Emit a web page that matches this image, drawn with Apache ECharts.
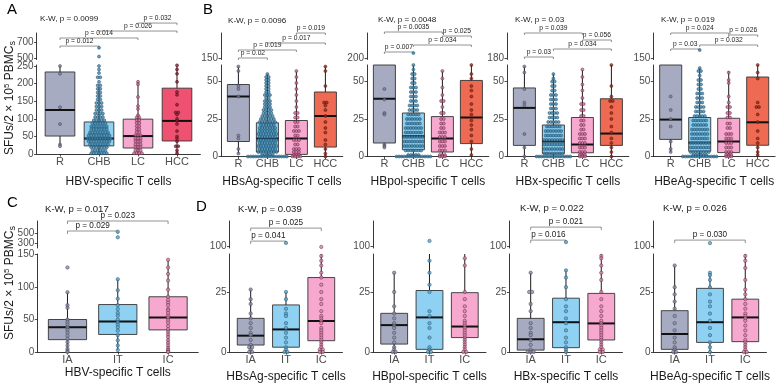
<!DOCTYPE html>
<html>
<head>
<meta charset="utf-8">
<script src="https://cdn.jsdelivr.net/npm/echarts@6/dist/echarts.min.js"></script>
<style>html,body{margin:0;background:#fff}#chart{width:784px;height:386px}</style>
</head>
<body>
<div id="chart"></div>
<script>
// broken-axis box + dot plots (top: disease stages, bottom: immune phases)
const FONT = '"Liberation Sans", Arial, sans-serif';

const TOP_CATS = ['R', 'CHB', 'LC', 'HCC'];
const BOT_CATS = ['IA', 'IT', 'IC'];

// boxes: [lower whisker, Q1, median, Q3, upper whisker]; dots: [value, how many side by side]
const A_BOXES = [[22, 51, 125, 233, 250], [0, 23, 44, 91, 190], [0, 17, 51, 99, 205], [0, 37, 94, 187, 250]];
const A_DOTS = [
  [[250,1],[228,1],[133,1],[85,1],[27,1],[22,1]],
  [[628,1],[518,1],[250,1],[240,1],[230,1],[218,2],[205,1],[195,2],[185,2],[175,2],[165,2],[155,2],[145,3],[135,3],[125,3],[115,4],[105,4],[96,5],[87,6],[78,7],[70,7],[61,8],[53,9],[44,10],[36,9],[27,8],[19,7],[10,6],[2,7]],
  [[205,1],[198,1],[162,1],[136,1],[128,1],[110,1],[104,2],[96,2],[88,2],[79,2],[70,2],[62,2],[53,3],[44,3],[36,3],[27,3],[19,3],[10,3],[2,4]],
  [[252,1],[240,1],[228,1],[205,1],[176,1],[168,1],[140,1],[118,2],[112,1],[100,1],[94,1],[85,1],[65,1],[50,1],[44,1],[36,1],[22,2],[10,1],[2,1]]
];
const A_BRACKETS = [['R','CHB',649,'p = 0.012'], ['R','LC',750,'p = 0.014'], ['CHB','HCC',837,'p = 0.026'], ['LC','HCC',937,'p = 0.032']];

const B1_BOXES = [[2, 10, 40, 48, 60], [0, 3, 12, 22.5, 55], [0, 1.4, 12, 24, 57], [0, 6.3, 27, 43, 60]];
const B1_DOTS = [
  [[60,1],[57,1],[47,1],[45,1],[40,1],[14,1],[12,1],[5,1],[2,1]],
  [[55,1],[53,2],[51,2],[49,2],[47,2],[45,2],[43,2],[41,3],[39,2],[37,3],[35,3],[33,3],[31,4],[29,4],[27,5],[25,6],[23,7],[21,6],[19,7],[17,7],[15,8],[13,7],[11,8],[9,7],[7,8],[5,7],[3,8],[1,5],[0,16]],
  [[57,1],[53,1],[49,1],[45,1],[41,1],[37,1],[33,1],[29,2],[26,2],[23,2],[20,2],[17,3],[14,2],[11,3],[8,2],[5,3],[3,3],[1,3],[0,4]],
  [[60,1],[57,1],[47,1],[36,2],[34,1],[31,1],[27,1],[23,1],[19,1],[16,1],[11,1],[8,1],[5,1],[2,1],[0,1]]
];
const B1_BRACKETS = [['R','CHB',150,'p = 0.02'], ['R','LC',182,'p = 0.019'], ['CHB','HCC',210,'p = 0.017'], ['LC','HCC',250,'p = 0.019']];

const B2_BOXES = [[6, 9, 38.5, 75, 90], [0, 4.5, 13.5, 29, 61], [0, 3, 12, 26.6, 57], [0, 8.6, 26, 50.7, 61]];
const B2_DOTS = [
  [[45,1],[38,1],[29,1],[28,1],[8,1],[7,1],[6,1]],
  [[220,1],[61,1],[58,1],[55,2],[52,2],[49,2],[46,3],[43,3],[40,3],[37,3],[34,4],[31,4],[28,5],[25,6],[22,6],[19,7],[16,7],[13,8],[10,8],[7,8],[4,7],[1,5],[0,14]],
  [[57,1],[52,1],[46,1],[41,1],[37,2],[33,1],[29,2],[25,2],[22,2],[19,2],[16,3],[13,3],[10,3],[7,3],[4,3],[1,3],[0,3]],
  [[61,1],[55,1],[52,1],[47,1],[44,1],[40,1],[35,1],[31,1],[28,1],[24,1],[21,1],[18,1],[14,1],[10,1],[5,1],[1,1]]
];
const B2_BRACKETS = [['R','CHB',224,'p = 0.007'], ['CHB','HCC',252,'p = 0.034'], ['LC','HCC',288,'p = 0.025'], ['R','LC',304,'p = 0.0035']];

const B3_BOXES = [[0, 7.4, 32.4, 45.7, 60], [0, 2, 10, 21, 55], [0, 2.5, 8, 26, 57.6], [0, 7.4, 15.3, 38.5, 61]];
const B3_DOTS = [
  [[60,1],[56,1],[45,1],[36,1],[34,1],[15,1],[6,1],[0,1]],
  [[55,1],[52,1],[50,2],[47,2],[44,2],[41,3],[38,3],[35,3],[32,3],[29,4],[26,4],[23,5],[20,6],[17,7],[14,7],[11,8],[8,8],[5,8],[2,8],[0,14]],
  [[58,1],[53,1],[48,1],[44,1],[39,1],[35,2],[31,2],[27,2],[24,2],[21,2],[18,2],[15,3],[12,3],[9,3],[6,3],[3,3],[1,3],[0,3]],
  [[61,1],[47,1],[40,1],[37,2],[33,1],[29,1],[25,1],[20,1],[16,1],[12,1],[9,1],[6,1],[3,1],[0,1]]
];
const B3_BRACKETS = [['R','CHB',184,'p = 0.03'], ['CHB','HCC',216,'p = 0.034'], ['LC','HCC',252,'p = 0.056'], ['R','LC',280,'p = 0.039']];

const B4_BOXES = [[3, 11.4, 24.6, 75, 90], [0, 3.5, 9.2, 26, 59], [0, 2.6, 10, 25.5, 57], [0, 7.5, 22.8, 53, 61]];
const B4_DOTS = [
  [[40,1],[31,1],[25,1],[20,1],[10,1],[5,1],[3,1]],
  [[182,1],[59,1],[57,2],[54,1],[51,2],[48,2],[45,2],[42,3],[39,3],[36,3],[33,4],[30,4],[27,5],[24,6],[21,6],[18,7],[15,7],[12,7],[9,8],[6,8],[3,8],[1,6],[0,14]],
  [[56,1],[51,1],[49,1],[40,1],[36,1],[33,2],[29,2],[26,2],[22,2],[19,2],[15,3],[12,3],[9,3],[6,3],[3,3],[1,3],[0,3]],
  [[61,1],[56,1],[52,1],[36,1],[33,2],[28,1],[23,1],[17,1],[12,1],[9,1],[6,1],[3,1],[1,1]]
];
const B4_BRACKETS = [['R','CHB',186,'p = 0.03'], ['CHB','HCC',202,'p = 0.032'], ['LC','HCC',242,'p = 0.026'], ['R','LC',250,'p = 0.024']];

const C_BOXES = [[0, 19, 38, 50, 92], [3, 27, 47, 73, 112], [0, 34, 53, 85, 142]];
const C_DOTS = [
  [[130,1],[92,1],[72,1],[68,1],[50,1],[46,1],[42,1],[38,1],[34,1],[30,1],[25,1],[20,1],[15,1],[10,1],[5,1],[2,1],[0,1]],
  [[526,1],[414,1],[112,1],[95,1],[82,1],[72,1],[66,1],[60,1],[56,1],[50,1],[46,1],[42,1],[38,1],[33,1],[26,1],[18,1],[10,1],[3,1]],
  [[142,1],[130,1],[120,1],[110,1],[96,1],[85,1],[80,1],[76,1],[72,1],[66,1],[64,1],[60,1],[56,1],[53,1],[49,1],[45,1],[40,1],[35,1],[31,1],[27,1],[23,1],[18,1],[14,1],[10,1],[6,1],[3,1],[1,1],[0,1]]
];
const C_BRACKETS = [['IA','IT',540,'p = 0.029'], ['IA','IC',740,'p = 0.023']];

const D1_BOXES = [[0, 2.9, 6.8, 14, 26], [0, 2, 9.4, 19.6, 25], [0, 4.7, 12.9, 31, 41]];
const D1_DOTS = [
  [[26,1],[22,1],[20,1],[16,1],[14,1],[12,1],[10,1],[8,1],[7,1],[5,1],[3,1],[2,2],[1,1],[0,2]],
  [[118,1],[25,1],[22,1],[18,1],[16,1],[15,1],[12,1],[10,1],[8,1],[6,1],[4,1],[2,1],[1,1],[0,2]],
  [[98,1],[40,1],[38,1],[36,1],[33,1],[31,1],[28,1],[25,1],[22,1],[20,1],[17,1],[15,1],[14,1],[13,1],[12,1],[10,1],[9,1],[8,1],[7,1],[6,1],[5,1],[4,1],[3,1],[2,1],[1,2],[0,2]]
];
const D1_BRACKETS = [['IA','IT',127,'p = 0.041'], ['IA','IC',192,'p = 0.025']];

const D2_BOXES = [[0, 3.3, 11.2, 16.1, 33], [0, 1.1, 14.4, 25.6, 41], [0, 6, 10.6, 24.7, 41]];
const D2_DOTS = [
  [[33,1],[25,1],[19,1],[16,1],[14,1],[12,1],[11,1],[10,1],[8,1],[6,1],[4,1],[2,1],[1,1],[0,2]],
  [[128,1],[38,1],[33,1],[28,1],[25,1],[17,1],[15,1],[12,1],[10,1],[6,1],[2,1],[1,1],[0,2]],
  [[39,1],[36,1],[25,1],[22,1],[19,1],[17,1],[15,1],[13,1],[12,1],[11,1],[10,1],[9,1],[8,1],[7,1],[6,1],[5,1],[4,1],[3,1],[2,1],[1,1],[0,2]]
];
const D2_BRACKETS = [];

const D3_BOXES = [[0, 0.8, 5.3, 14, 33], [0, 1.8, 12.4, 22.4, 34], [0, 5, 11.9, 24.4, 41]];
const D3_DOTS = [
  [[33,1],[25,2],[20,1],[17,1],[12,1],[10,1],[8,1],[7,1],[5,1],[3,1],[1,1],[0,3]],
  [[122,1],[34,1],[31,1],[27,1],[22,1],[19,1],[17,1],[14,1],[12,1],[9,1],[6,1],[4,1],[2,1],[1,1],[0,1]],
  [[40,1],[39,1],[36,1],[33,1],[30,1],[25,1],[22,1],[19,1],[17,1],[15,1],[13,1],[12,1],[11,1],[10,1],[9,1],[8,1],[7,1],[6,1],[5,1],[4,1],[3,1],[2,1],[1,2],[0,2]]
];
const D3_BRACKETS = [['IA','IT',132,'p = 0.016'], ['IA','IC',197,'p = 0.021']];

const D4_BOXES = [[0, 1.1, 7.5, 17.2, 36], [0, 4, 12.4, 26.5, 33], [0, 4.3, 14.4, 22, 41]];
const D4_DOTS = [
  [[36,1],[27,1],[24,1],[21,1],[18,1],[15,1],[12,1],[9,1],[6,1],[4,1],[2,1],[1,1],[0,2]],
  [[117,1],[33,1],[32,1],[30,1],[27,1],[24,1],[21,1],[19,1],[16,1],[13,1],[10,1],[7,1],[4,1],[2,1],[0,1]],
  [[40,1],[38,1],[35,1],[30,1],[26,1],[24,1],[22,1],[20,1],[18,1],[16,1],[15,1],[14,1],[13,1],[11,1],[9,1],[7,1],[5,1],[4,1],[3,1],[2,1],[1,1],[0,2]]
];
const D4_BRACKETS = [['IA','IC',132,'p = 0.030']];

// tick values for the two segments of each broken axis
const A_LOW_TICKS = [0, 50, 100, 150, 200, 250];
const A_UP_TICKS = [500, 700];
const B_LOW_TICKS = [0, 25, 50];
const C_LOW_TICKS = [0, 50, 100, 150];
const C_UP_TICKS = [300, 500];
const D_LOW_TICKS = [0, 25];
const D_UP_TICKS = [100];

const FILL_A = ['#a7abc1', '#8fd1f2', '#f6a8cf', '#ef5170'];
const FILL_B = ['#a7abc1', '#8fd1f2', '#f6a8cf', '#ee6a52'];
const FILL_CD = ['#a7abc1', '#8fd1f2', '#f6a8cf'];
const DOT_A = [['#7b7f97', '#3b3e4f'], ['#4089b0', '#1c4660'], ['#c96f98', '#5e1f3c'], ['#8c1d34', '#4a0c18']];
const DOT_B = [['#7b7f97', '#3b3e4f'], ['#4089b0', '#1c4660'], ['#c96f98', '#5e1f3c'], ['#962c1e', '#4f1108']];
const DOT_CD = [['#8b8fa8', '#3b3e4f'], ['#5aa5cc', '#234a61'], ['#d484a8', '#5e2442']];

const TOP = { lowTop: 65, upTop: 33, upBottom: 59.5, dot: 3, dotGap: 2.6, brFont: 6.7, brTick: 2, titleGap: 19 };
const BOT = { lowTop: 254, lowBottom: 352, upTop: 221, upBottom: 248, dot: 3.4, dotGap: 3, brFont: 8.2, brTick: 3, titleGap: 16 };

const PANELS = [
  { ...TOP, cats: TOP_CATS, boxes: A_BOXES, dots: A_DOTS, brackets: A_BRACKETS, fills: FILL_A, dotClr: DOT_A,
    left: 36.6, unit: 39, lowBottom: 154, lowMax: 252.8, upMin: 481, upMax: 812.5,
    lowTicks: A_LOW_TICKS, upTicks: A_UP_TICKS, title: 'HBV-specific T cells', titleGap: 22,
    kw: 'K-W, p = 0.0099', kwAt: [40, 18.5] },
  { ...TOP, cats: TOP_CATS, boxes: B1_BOXES, dots: B1_DOTS, brackets: B1_BRACKETS, fills: FILL_B, dotClr: DOT_B,
    left: 221, unit: 29, lowBottom: 156.5, lowMax: 61, upMin: 144, upMax: 250,
    lowTicks: B_LOW_TICKS, upTicks: [150], title: 'HBsAg-specific T cells',
    kw: 'K-W, p = 0.0096', kwAt: [228, 21] },
  { ...TOP, cats: TOP_CATS, boxes: B2_BOXES, dots: B2_DOTS, brackets: B2_BRACKETS, fills: FILL_B, dotClr: DOT_B,
    left: 367, unit: 29, lowBottom: 156.5, lowMax: 61, upMin: 194, upMax: 300,
    lowTicks: B_LOW_TICKS, upTicks: [200], title: 'HBpol-specific T cells',
    kw: 'K-W, p = 0.0048', kwAt: [378, 20] },
  { ...TOP, cats: TOP_CATS, boxes: B3_BOXES, dots: B3_DOTS, brackets: B3_BRACKETS, fills: FILL_B, dotClr: DOT_B,
    left: 507, unit: 29, lowBottom: 156.5, lowMax: 61, upMin: 174, upMax: 280,
    lowTicks: B_LOW_TICKS, upTicks: [180], title: 'HBx-specific T cells',
    kw: 'K-W, p = 0.03', kwAt: [515, 20] },
  { ...TOP, cats: TOP_CATS, boxes: B4_BOXES, dots: B4_DOTS, brackets: B4_BRACKETS, fills: FILL_B, dotClr: DOT_B,
    left: 653.3, unit: 29, lowBottom: 156.5, lowMax: 61, upMin: 144, upMax: 250,
    lowTicks: B_LOW_TICKS, upTicks: [150], title: 'HBeAg-specific T cells',
    kw: 'K-W, p = 0.019', kwAt: [661, 20] },
  { ...BOT, cats: BOT_CATS, boxes: C_BOXES, dots: C_DOTS, brackets: C_BRACKETS, fills: FILL_CD, dotClr: DOT_CD,
    left: 37.3, unit: 50.3, lowMax: 150.8, upMin: 200, upMax: 740,
    lowTicks: C_LOW_TICKS, upTicks: C_UP_TICKS, title: 'HBV-specific T cells', titleGap: 15,
    kw: 'K-W, p = 0.017', kwAt: [45, 209] },
  { ...BOT, cats: BOT_CATS, boxes: D1_BOXES, dots: D1_DOTS, brackets: D1_BRACKETS, fills: FILL_CD, dotClr: DOT_CD,
    left: 229.5, unit: 35.3, lowMax: 40.8, upMin: 92.5, upMax: 227.5,
    lowTicks: D_LOW_TICKS, upTicks: D_UP_TICKS, title: 'HBsAg-specific T cells', titleGap: 19,
    kw: 'K-W, p = 0.039', kwAt: [238, 209] },
  { ...BOT, cats: BOT_CATS, boxes: D2_BOXES, dots: D2_DOTS, brackets: D2_BRACKETS, fills: FILL_CD, dotClr: DOT_CD,
    left: 373, unit: 35.3, lowMax: 40.8, upMin: 92.5, upMax: 227.5,
    lowTicks: D_LOW_TICKS, upTicks: D_UP_TICKS, title: 'HBpol-specific T cells', titleGap: 19,
    kw: '', kwAt: [0, 0] },
  { ...BOT, cats: BOT_CATS, boxes: D3_BOXES, dots: D3_DOTS, brackets: D3_BRACKETS, fills: FILL_CD, dotClr: DOT_CD,
    left: 509.5, unit: 35.3, lowMax: 40.8, upMin: 92.5, upMax: 227.5,
    lowTicks: D_LOW_TICKS, upTicks: D_UP_TICKS, title: 'HBx-specific T cells', titleGap: 19,
    kw: 'K-W, p = 0.022', kwAt: [520, 208.5] },
  { ...BOT, cats: BOT_CATS, boxes: D4_BOXES, dots: D4_DOTS, brackets: D4_BRACKETS, fills: FILL_CD, dotClr: DOT_CD,
    left: 653.5, unit: 35.3, lowMax: 40.8, upMin: 92.5, upMax: 227.5,
    lowTicks: D_LOW_TICKS, upTicks: D_UP_TICKS, title: 'HBeAg-specific T cells', titleGap: 19,
    kw: 'K-W, p = 0.026', kwAt: [663, 208.5] },
];

const LETTERS = [['A', 7, 10], ['B', 203, 10], ['C', 7, 203], ['D', 196, 207]];
const Y_TITLE = 'SFUs/2 × 10{sup|5} PBMC{sub|s}';
const Y_TITLE_AT = [[10, 98], [10, 283]];

const AX_CLR = '#222', LBL_CLR = '#4d4d4d', TXT_CLR = '#1a1a1a';
const BOX_W = 0.76;

// centred horizontal stacks, like a dotplot with stackdir = "center"
function stack(p) {
  const out = [];
  p.dots.forEach((rows, ci) => {
    rows.forEach(([v, n]) => {
      for (let j = 0; j < n; j++) {
        out.push({ ci, v, x: ci + 1 + (j - (n - 1) / 2) * p.dotGap / p.unit });
      }
    });
  });
  return out;
}

const grid = [], xAxis = [], yAxis = [], series = [], graphic = [];

PANELS.forEach(p => {
  const n = p.cats.length;
  const width = (n + 0.2) * p.unit;
  const gi = grid.length;
  const catVals = p.cats.map((_, i) => i + 1);
  grid.push({ left: p.left, top: p.lowTop, width, height: p.lowBottom - p.lowTop });
  grid.push({ left: p.left, top: p.upTop, width, height: p.upBottom - p.upTop });

  xAxis.push({
    gridIndex: gi, type: 'value', min: 0.4, max: n + 0.6,
    axisLine: { lineStyle: { color: AX_CLR, width: 0.9 } },
    axisTick: { customValues: catVals, length: 2.5, lineStyle: { color: AX_CLR, width: 0.8 } },
    axisLabel: { customValues: catVals, formatter: v => p.cats[Math.round(v) - 1], color: LBL_CLR, fontSize: 11, margin: 2, fontFamily: FONT },
    splitLine: { show: false },
    name: p.title, nameLocation: 'middle', nameGap: p.titleGap,
    nameTextStyle: { color: TXT_CLR, fontSize: 12, fontFamily: FONT },
  });
  xAxis.push({ gridIndex: gi + 1, type: 'value', min: 0.4, max: n + 0.6, show: false });

  const yStyle = ticks => ({
    axisLine: { show: true, lineStyle: { color: AX_CLR, width: 0.9 } },
    axisTick: { show: true, customValues: ticks, length: 2.5, lineStyle: { color: AX_CLR, width: 0.8 } },
    axisLabel: { customValues: ticks, color: LBL_CLR, fontSize: 10, margin: 3, fontFamily: FONT },
    splitLine: { show: false },
  });
  yAxis.push({ gridIndex: gi, type: 'value', min: 0, max: p.lowMax, ...yStyle(p.lowTicks) });
  yAxis.push({ gridIndex: gi + 1, type: 'value', min: p.upMin, max: p.upMax, ...yStyle(p.upTicks) });

  // boxes (whiskers cut at the top of the lower segment)
  series.push({
    type: 'custom', xAxisIndex: gi, yAxisIndex: gi, silent: true,
    data: p.boxes.map((b, i) => [i + 1, ...b.map(v => Math.min(v, p.lowMax))]),
    renderItem(params, api) {
      const x = api.value(0);
      const c = k => api.coord([x, api.value(k)]);
      const lo = c(1), q1 = c(2), md = c(3), q3 = c(4), hi = c(5);
      const half = api.size([BOX_W, 0])[0] / 2;
      const cx = lo[0];
      return { type: 'group', children: [
        { type: 'line', shape: { x1: cx, y1: lo[1], x2: cx, y2: hi[1] }, style: { stroke: '#1a1a1a', lineWidth: 1 } },
        { type: 'rect', shape: { x: cx - half, y: q3[1], width: 2 * half, height: q1[1] - q3[1] },
          style: { fill: p.fills[params.dataIndex], stroke: '#333', lineWidth: 0.9 } },
        { type: 'line', shape: { x1: cx - half, y1: md[1], x2: cx + half, y2: md[1] }, style: { stroke: '#111', lineWidth: 2 } },
      ] };
    },
  });

  const pts = stack(p);
  const toItem = d => ({ value: [d.x, d.v], itemStyle: { color: p.dotClr[d.ci][0], borderColor: p.dotClr[d.ci][1], borderWidth: 0.6 } });
  series.push({ type: 'scatter', xAxisIndex: gi, yAxisIndex: gi, silent: true, clip: false, symbolSize: p.dot,
    data: pts.filter(d => d.v <= p.lowMax).map(toItem) });
  series.push({ type: 'scatter', xAxisIndex: gi + 1, yAxisIndex: gi + 1, silent: true, clip: false, symbolSize: p.dot,
    data: pts.filter(d => d.v >= p.upMin).map(toItem) });

  // pairwise comparison brackets
  series.push({
    type: 'custom', xAxisIndex: gi + 1, yAxisIndex: gi + 1, silent: true, clip: false,
    data: p.brackets.map(b => [p.cats.indexOf(b[0]) + 1, p.cats.indexOf(b[1]) + 1, b[2]]),
    renderItem(params, api) {
      const a = api.coord([api.value(0), api.value(2)]);
      const b = api.coord([api.value(1), api.value(2)]);
      return { type: 'group', children: [
        { type: 'polyline', shape: { points: [[a[0], a[1] + p.brTick], a, b, [b[0], b[1] + p.brTick]] },
          style: { stroke: '#666', lineWidth: 0.7, fill: null } },
        { type: 'text', x: (a[0] + b[0]) / 2, y: a[1] - 1.5,
          style: { text: p.brackets[params.dataIndex][3], fontSize: p.brFont, fontFamily: FONT, fill: TXT_CLR, align: 'center', verticalAlign: 'bottom' } },
      ] };
    },
  });

  if (p.kw) graphic.push({ type: 'text', x: p.kwAt[0], y: p.kwAt[1], silent: true,
    style: { text: p.kw, fontSize: p.brFont + 1.4, fontFamily: FONT, fill: TXT_CLR, verticalAlign: 'middle' } });
});

LETTERS.forEach(([t, x, y]) => graphic.push({ type: 'text', x, y, silent: true,
  style: { text: t, fontSize: 15, fontFamily: FONT, fill: '#000', verticalAlign: 'middle' } }));

Y_TITLE_AT.forEach(([x, y]) => graphic.push({ type: 'text', x, y, rotation: Math.PI / 2, silent: true,
  style: { text: Y_TITLE, fontSize: 12, fontFamily: FONT, fill: TXT_CLR, align: 'center', verticalAlign: 'middle',
    rich: { sup: { fontSize: 8, fontFamily: FONT, fill: TXT_CLR, verticalAlign: 'top', padding: [0, 0, 6, 0] },
            sub: { fontSize: 9, fontFamily: FONT, fill: TXT_CLR, verticalAlign: 'bottom', padding: [3, 0, 0, 0] } } } }));

const chart = echarts.init(document.getElementById('chart'), null, { renderer: 'canvas' });
chart.setOption({
  backgroundColor: '#fff', animation: false,
  textStyle: { fontFamily: FONT },
  grid, xAxis, yAxis, series, graphic,
});
</script>
</body>
</html>
